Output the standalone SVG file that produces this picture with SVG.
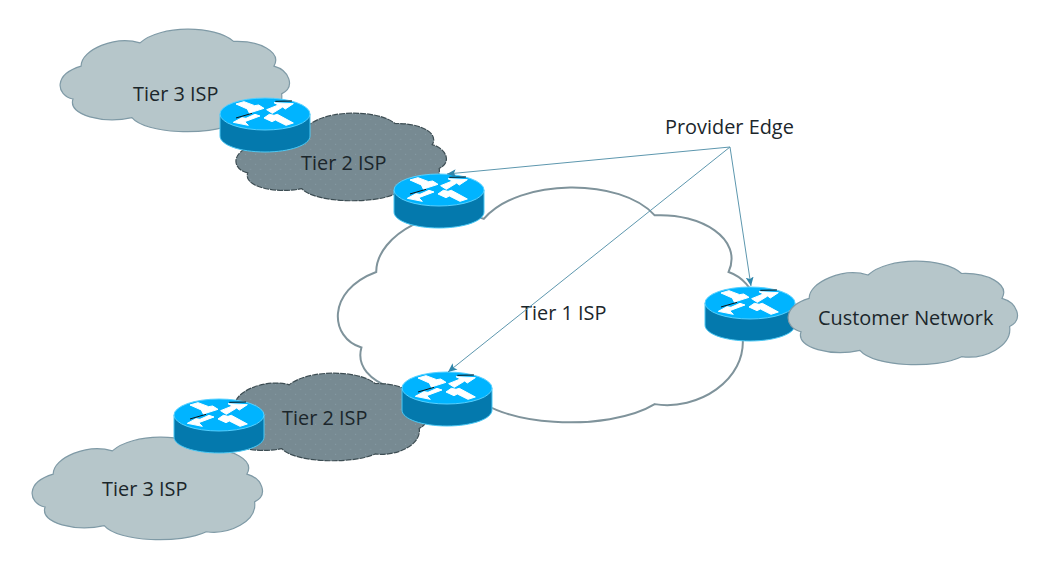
<svg xmlns="http://www.w3.org/2000/svg" width="1038" height="561" viewBox="0 0 1038 561">
<style>
text{font-family:"Open Sans","Noto Sans","Liberation Sans",sans-serif;font-size:19.9px;fill:#1b262b}
.t3{fill:#b6c6ca;stroke:#7f9aa6;stroke-width:1.2}
.t2{fill:url(#dots);stroke:#3d4d53;stroke-width:1.2;stroke-dasharray:6 1}
.t1{fill:#fff;stroke:#7f939b;stroke-width:2}
.link{fill:none;stroke:#5d97ae;stroke-width:1;marker-end:url(#head)}
.arrow{fill:#fff;stroke:#fff;stroke-width:3;stroke-linejoin:miter}
</style>
<defs>
<pattern id="dots" patternUnits="userSpaceOnUse" width="4.72" height="11.36">
<rect width="4.72" height="11.36" fill="#778a92"/>
<rect x="0.5" y="1" width="0.4" height="0.9" fill="#8fa5b2"/>
<rect x="2.86" y="6.68" width="0.4" height="0.9" fill="#8fa5b2"/>
</pattern>
<marker id="head" markerWidth="12" markerHeight="10" refX="9" refY="4" orient="auto" markerUnits="userSpaceOnUse" viewBox="0 0 12 8">
<path d="M0,0 L9,4 L0,8 L2,4 Z" fill="#2f86ab"/>
</marker>
<path id="cloud" vector-effect="non-scaling-stroke" d="M6.5,68 C-1,64 -2,44 10,36 C10,20 25,6 35.5,13.5 C44,-4 68,-4 76,12 C87,11 97,22 93.5,36 C100,40 103,56 96.8,63 C98,82 86,95 76,92 C65,104 38,102 32,86 C20,92 4,84 6.5,68 Z"/>
<g id="router">
<path d="M-45,0 V22 C-45,31 -25,38 0,38 C25,38 45,31 45,22 V0 Z" fill="#0479ad" stroke="#4cc9f5" stroke-width="1"/>
<ellipse rx="45" ry="16" fill="#00b4ff" stroke="#55d0ff" stroke-width="1"/>
<g transform="translate(-55,-29) scale(.3333)">
<path d="M196,49 L246,48 M78,99 L126,85" stroke="#111" stroke-width="3" fill="none"/>
<path class="arrow" d="M78,57 L102,50 L134,62 L146,60 L162,70 L118,84 L112,72 Z"/>
<path class="arrow" d="M170,74 L205,60 L192,53 L250,56 L226,72 L218,66 L187,85 Z"/>
<path class="arrow" d="M70,112 L96,98 L108,100 L135,88 L150,93 L104,110 L115,121 Z"/>
<path class="arrow" d="M162,99 L178,88 L192,91 L202,88 L250,114 L228,121 L196,105 L186,110 Z"/>
</g>
</g>
</defs>

<g id="tier1-isp">
<use href="#cloud" class="t1" transform="translate(334,187) scale(4.22,2.36)"/>
<text x="521" y="320">Tier 1 ISP</text>
</g>
<g id="tier3-isp-top">
<use href="#cloud" class="t3" transform="translate(58,29) scale(2.31,1.03)"/>
<text x="133" y="101">Tier 3 ISP</text>
</g>
<g id="tier2-isp-top">
<use href="#cloud" class="t2" transform="translate(234,113) scale(2.12,.88)"/>
<text x="301" y="170">Tier 2 ISP</text>
</g>
<g id="tier2-isp-bottom">
<use href="#cloud" class="t2" transform="translate(214,373) scale(2.12,.88)"/>
<text x="282" y="425">Tier 2 ISP</text>
</g>
<g id="tier3-isp-bottom">
<use href="#cloud" class="t3" transform="translate(30,437) scale(2.32,1.03)"/>
<text x="102" y="496">Tier 3 ISP</text>
</g>
<g id="router-1"><use href="#router" transform="translate(265,114)"/></g>
<g id="router-2"><use href="#router" transform="translate(439,190)"/></g>
<g id="router-3"><use href="#router" transform="translate(750,303)"/></g>
<g id="router-4"><use href="#router" transform="translate(447,388)"/></g>
<g id="router-5"><use href="#router" transform="translate(219,415)"/></g>
<g id="customer-network">
<use href="#cloud" class="t3" transform="translate(786,261) scale(2.31,1.04)"/>
<text x="818" y="325">Customer Network</text>
</g>
<g id="provider-edge">
<text x="665" y="134">Provider Edge</text>
</g>
<g id="connectors">
<path class="link" d="M730,147 L447,174"/>
<path class="link" d="M730,147 L751,286"/>
<path class="link" d="M730,147 L448,372"/>
</g>
</svg>
